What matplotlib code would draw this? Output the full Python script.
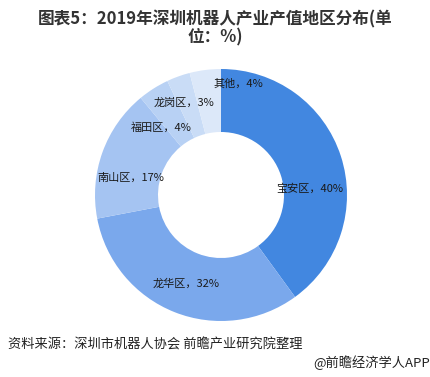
import numpy as np
import matplotlib
matplotlib.use('Agg')
import matplotlib.pyplot as plt

plt.rcParams['font.family'] = ['Noto Sans CJK SC', 'DejaVu Sans']

# 数据
regions = ['宝安区', '龙华区', '南山区', '福田区', '龙岗区', '其他']
shares = [40, 32, 17, 4, 3, 4]
colors = ['#4287e0', '#7aa8ec', '#a5c4f2', '#b8d1f4', '#c9dcf6', '#dce8f9']

# 标签位置：相对扇区中线的角度偏移（度）和半径（相对外半径）
label_dang = [-13.5, 0, 9, 9, 2, -16]
label_r = [0.71, 0.76, 0.73, 0.715, 0.79, 0.89]

W, H = 431, 377
fig = plt.figure(figsize=(W / 100, H / 100), dpi=100)

# 饼图区域：圆心 (221,195)，半径 126 像素
cx, cy, R = 221, 195, 126
ax = fig.add_axes([(cx - R) / W, (H - cy - R) / H, 2 * R / W, 2 * R / H])
wedges, _ = ax.pie(shares, colors=colors, startangle=90, counterclock=False,
                   radius=1, wedgeprops=dict(width=0.5, linewidth=0))
ax.set_xlim(-1, 1)
ax.set_ylim(-1, 1)
ax.set_aspect('auto')
ax.axis('off')

for w, name, v, da, r in zip(wedges, regions, shares, label_dang, label_r):
    ang = np.deg2rad((w.theta1 + w.theta2) / 2 + da)
    ax.text(r * np.cos(ang), r * np.sin(ang), f'{name}，{v}%',
            ha='center', va='center', fontsize=8, color='#1a1a1a')

fig.text(0.5, 1 - 28 / H, '图表5：2019年深圳机器人产业产值地区分布(单\n位：%)',
         ha='center', va='center', fontsize=12, fontweight='bold',
         color='#333333', linespacing=1.0)

fig.text(8 / W, 1 - 345 / H, '资料来源：深圳市机器人协会 前瞻产业研究院整理',
         ha='left', va='center', fontsize=9.5, color='#222222')
fig.text(1 - 1 / W, 1 - 363 / H, '@前瞻经济学人APP',
         ha='right', va='center', fontsize=9.5, color='#222222')

fig.savefig('out.png', dpi=100)
